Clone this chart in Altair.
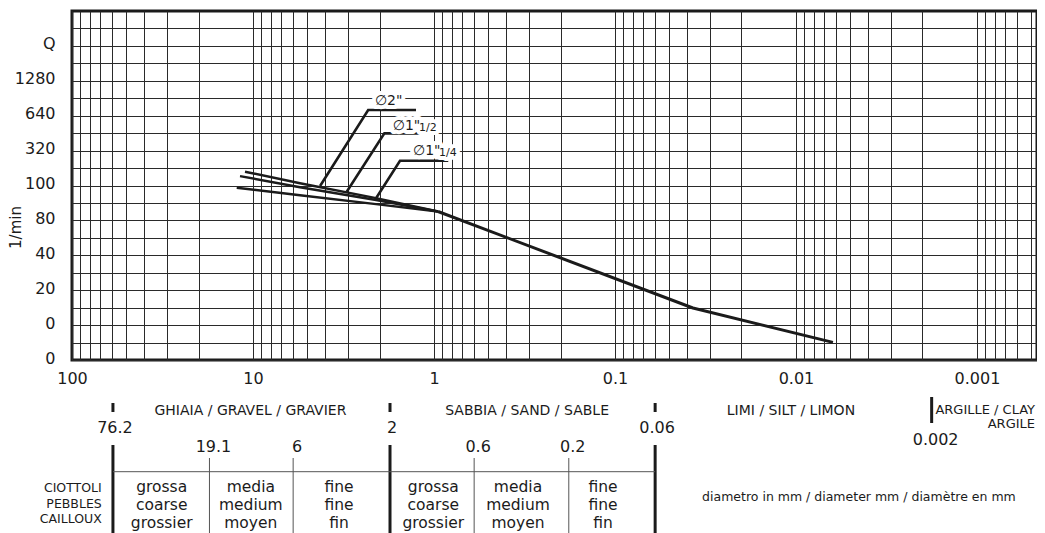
import json
import altair as alt
import pandas as pd

# ---------------- data ----------------
# x = particle diameter in mm (log axis, reversed); y = chart grid units (0..20)
main_d = [0.95, 0.0371, 0.00625]
main_y = [8.51, 2.98, 1.01]

pipe2_d = [11.07, 5.50, 2.09, 0.95]
pipe2_y = [10.79, 10.13, 9.28, 8.51]
pipe15_d = [11.8, 5.50, 2.09, 0.95]
pipe15_y = [10.54, 9.90, 9.17, 8.51]
pipe125_d = [12.3, 5.50, 2.09, 0.95]
pipe125_y = [9.87, 9.44, 8.93, 8.51]

lead2_d = [4.26, 2.31, 1.257]
lead2_y = [9.97, 14.33, 14.33]
lead15_d = [3.035, 1.88, 1.009]
lead15_y = [9.645, 12.99, 12.99]
lead125_d = [2.09, 1.541, 0.834]
lead125_y = [9.27, 11.42, 11.42]

pipe_labels = ['\u22052"', '\u22051"', '\u22051"']
pipe_label_d = [2.12, 1.691, 1.306]
pipe_label_y = [14.61, 13.18, 11.75]
pipe_sub = ["1/2", "1/4"]
pipe_sub_d = [1.21, 0.938]
pipe_sub_y = [13.12, 11.69]

y_tick_labels = ["0", "0", "20", "40", "80", "100", "320", "640", "1280", "Q"]
x_tick_labels = ["100", "10", "1", "0.1", "0.01", "0.001"]
x_domain = [0.000466, 100]

# classification table under the chart
major_bounds = [59.4, 1.75, 0.06]
major_labels = ["76.2", "2", "0.06"]
clay_bound = [0.00178]
clay_label = ["0.002"]
minor_bounds = [17.4, 6, 0.6, 0.18]
minor_labels = ["19.1", "6", "0.6", "0.2"]
group_names = ["GHIAIA / GRAVEL / GRAVIER", "SABBIA / SAND / SABLE", "LIMI / SILT / LIMON"]
group_d = [10.33, 0.306, 0.01066]
clay_names = ["ARGILLE / CLAY", "ARGILE"]
clay_d = [0.000478]
cell_labels = ["grossa\ncoarse\ngrossier", "media\nmedium\nmoyen", "fine\nfine\nfin",
               "grossa\ncoarse\ngrossier", "media\nmedium\nmoyen", "fine\nfine\nfin"]
cell_d = [31.95, 10.28, 3.35, 1.009, 0.3435, 0.1165]
pebbles_label = ["CIOTTOLI\nPEBBLES\nCAILLOUX"]
pebbles_d = [68.5]
unit_label = ["diametro in mm / diameter mm / diam\u00e8tre en mm"]
unit_d = [0.00449]

# ---------------- build tables ----------------
def series(name, d, y):
    return pd.DataFrame({"s": name, "i": range(len(d)), "d": d, "y": y})

main_df = series("main", main_d, main_y)
pipes_df = pd.concat([series("p2", pipe2_d, pipe2_y), series("p15", pipe15_d, pipe15_y),
                      series("p125", pipe125_d, pipe125_y)])
leads_df = pd.concat([series("l2", lead2_d, lead2_y), series("l15", lead15_d, lead15_y),
                      series("l125", lead125_d, lead125_y)])
plab_df = pd.DataFrame({"t": pipe_labels, "d": pipe_label_d, "y": pipe_label_y})
psub_df = pd.DataFrame({"t": pipe_sub, "d": pipe_sub_d, "y": pipe_sub_y})

grid_x = []
for k in range(-4, 3):
    for n in range(1, 10):
        v = round(n * 10 ** k, 10)
        if x_domain[0] <= v <= x_domain[1]:
            grid_x.append(v)
grid_y = list(range(0, 20))

INK = "#1b1b1b"
GRID = "#2a2a2a"
FONT = "DejaVu Sans"

xscale = alt.Scale(type="log", domain=x_domain, reverse=True, nice=False)
yscale = alt.Scale(domain=[0, 20], nice=False, zero=False)

x_expr = ("indexof(" + json.dumps(x_tick_labels) + ", format(datum.value, '~g')) >= 0 ? "
          "format(datum.value, '~g') : ''")
y_expr = ("(datum.value % 2 == 0 && datum.value <= 18) ? " + json.dumps(y_tick_labels) +
          "[datum.value / 2] : ''")

xaxis = alt.Axis(values=grid_x, tickCount=len(grid_x) + 5, grid=True, gridColor=GRID,
                 gridWidth=1, gridOpacity=1, ticks=False, domain=False, labelExpr=x_expr,
                 labelFontSize=16, labelPadding=18, labelBaseline="middle", labelFlush=False,
                 labelOverlap=False, labelColor=INK, title=None)
yaxis = alt.Axis(values=grid_y, tickCount=len(grid_y) + 5, grid=True, gridColor=GRID,
                 gridWidth=1, gridOpacity=1, ticks=False, domain=False, labelExpr=y_expr,
                 labelFontSize=16, labelPadding=17, labelOverlap=False, labelFlush=False,
                 labelBaseline="middle", labelOffset=-2, labelColor=INK,
                 title="1/min", titleFontSize=15, titleFontWeight="normal",
                 titleColor=INK, titleX=-57, titleY=216, titleBaseline="middle",
                 titleAlign="center")

X = alt.X("d:Q", scale=xscale)

main = alt.Chart(main_df).mark_line(color=INK, strokeWidth=3, strokeJoin="round").encode(
    x=alt.X("d:Q", scale=xscale, axis=xaxis),
    y=alt.Y("y:Q", scale=yscale, axis=yaxis),
    order="i:Q",
)
pipes = alt.Chart(pipes_df).mark_line(color=INK, strokeWidth=2.4).encode(
    x=X, y=alt.Y("y:Q", scale=yscale), detail="s:N", order="i:Q")
leads = alt.Chart(leads_df).mark_line(color=INK, strokeWidth=2.6).encode(
    x=X, y=alt.Y("y:Q", scale=yscale), detail="s:N", order="i:Q")

halo = dict(stroke="white", strokeWidth=8, strokeJoin="round", fill="white")
plab_bg = alt.Chart(plab_df).mark_text(align="left", baseline="alphabetic", font=FONT,
                                      fontSize=14, **halo).encode(
    x=X, y=alt.Y("y:Q", scale=yscale), text="t:N")
psub_bg = alt.Chart(psub_df).mark_text(align="left", baseline="alphabetic", font=FONT,
                                      fontSize=11, **halo).encode(
    x=X, y=alt.Y("y:Q", scale=yscale), text="t:N")
plab = alt.Chart(plab_df).mark_text(align="left", baseline="alphabetic", font=FONT,
                                   fontSize=14, color=INK).encode(
    x=X, y=alt.Y("y:Q", scale=yscale), text="t:N")
psub = alt.Chart(psub_df).mark_text(align="left", baseline="alphabetic", font=FONT,
                                   fontSize=11, color=INK).encode(
    x=X, y=alt.Y("y:Q", scale=yscale), text="t:N")


# ---- classification table (y given in pixels below the plot area) ----
def tdf(d, t=None):
    df = pd.DataFrame({"d": d})
    if t is not None:
        df["t"] = t
    return df


def vrule(d, y1, y2, w, color=INK):
    return alt.Chart(tdf(d)).mark_rule(color=color, strokeWidth=w).encode(
        x=X, y=alt.value(y1), y2=alt.value(y2))


def ttext(d, t, y, size, align="center", dx=0, line_h=None):
    kw = dict(align=align, baseline="middle", font=FONT, fontSize=size, color=INK, dx=dx)
    if line_h:
        kw.update(lineBreak="\n", lineHeight=line_h)
    return alt.Chart(tdf(d, t)).mark_text(**kw).encode(x=X, y=alt.value(y), text="t:N")


hline = alt.Chart(pd.DataFrame({"d": [major_bounds[0]], "d2": [major_bounds[-1]]})).mark_rule(
    color="#555555", strokeWidth=1).encode(x=X, x2="d2:Q", y=alt.value(460.7))

table = [
    vrule(major_bounds, 392, 401, 3),
    vrule(clay_bound, 386, 412, 3),
    vrule(major_bounds, 434, 522, 3),
    vrule(minor_bounds, 447, 522, 1, "#555555"),
    hline,
    ttext(group_d, group_names, 400, 14),
    ttext(clay_d, clay_names[:1], 398.5, 13, align="right"),
    ttext(clay_d, clay_names[1:], 412.5, 13, align="right"),
    ttext(major_bounds, major_labels, 417, 16, dx=2),
    ttext(clay_bound, clay_label, 429, 16, dx=4),
    ttext(minor_bounds, minor_labels, 435.5, 16, dx=4),
    ttext(cell_d, cell_labels, 476, 15.5, line_h=18),
    ttext(pebbles_d, pebbles_label, 477, 12.5, align="right", line_h=15.5),
    ttext(unit_d, unit_label, 486, 12.5),
]

chart = alt.layer(main, pipes, leads, plab_bg, psub_bg, plab, psub, *table).properties(
    width=965, height=349,
    padding={"left": 0, "top": 3, "right": 0, "bottom": 0},
).configure(font=FONT).configure_view(stroke=INK, strokeWidth=3)

chart.save("out.html", embed_options={"renderer": "svg", "actions": False})
